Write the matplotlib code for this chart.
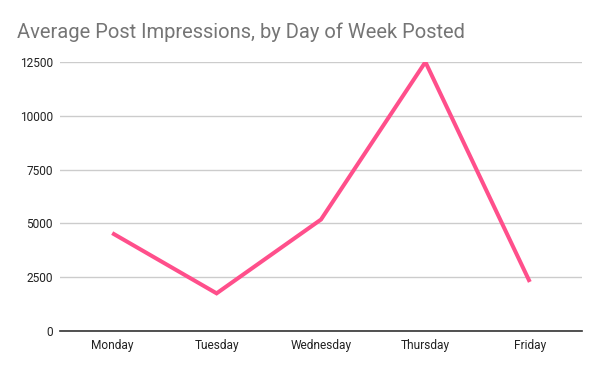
import matplotlib
matplotlib.use("Agg")
import matplotlib.pyplot as plt

# data
days = ["Monday", "Tuesday", "Wednesday", "Thursday", "Friday"]
impressions = [4550, 1750, 5180, 12500, 2280]
y_ticks = [0, 2500, 5000, 7500, 10000, 12500]

plt.rcParams["font.family"] = ["Roboto", "DejaVu Sans"]

fig = plt.figure(figsize=(6, 3.71), dpi=100)
ax = fig.add_axes([60 / 600, 40 / 371, 522 / 600, 269 / 371])

ax.plot(range(len(days)), impressions, color="#ff4f8b", lw=2.9,
        solid_joinstyle="miter", solid_capstyle="butt", zorder=3)

ax.set_xlim(-0.5, len(days) - 0.5)
ax.set_ylim(0, 12500)
ax.set_xticks(range(len(days)))
ax.set_xticklabels(days)
ax.set_yticks(y_ticks)
ax.set_yticklabels([str(v) for v in y_ticks])

ax.grid(axis="y", color="#cccccc", lw=1)
ax.set_axisbelow(True)
for side in ["top", "right", "left"]:
    ax.spines[side].set_visible(False)
ax.spines["bottom"].set_color("#333333")
ax.spines["bottom"].set_linewidth(1.2)
ax.spines["bottom"].set_zorder(4)
ax.tick_params(length=0, labelsize=8.6, colors="#222222")
ax.tick_params(axis="y", pad=5)
ax.tick_params(axis="x", pad=5.5)

fig.text(17 / 600, 1 - 32 / 371, "Average Post Impressions, by Day of Week Posted",
         fontsize=14.5, color="#757575", va="center", ha="left")

fig.savefig("out.png", dpi=100)
